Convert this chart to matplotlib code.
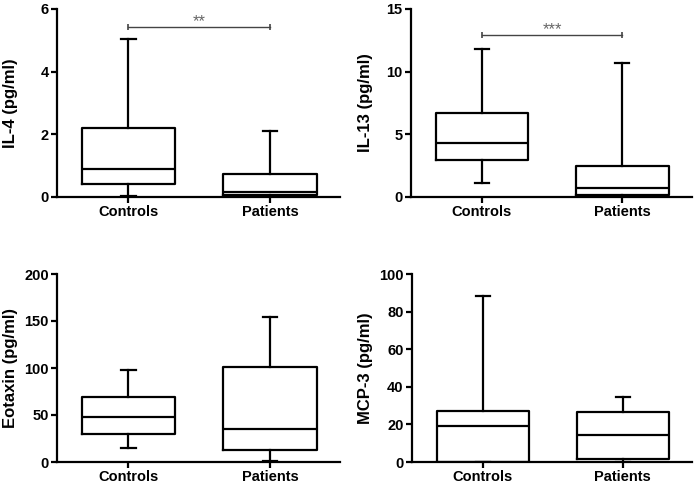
import matplotlib
matplotlib.use("Agg")
import matplotlib.pyplot as plt

plt.rcParams['font.family'] = ['Liberation Sans', 'DejaVu Sans']
plt.rcParams['font.weight'] = 'bold'

groups = ["Controls", "Patients"]

# five-number summaries: whislo, q1, med, q3, whishi
il4_controls = [0.03, 0.41, 0.89, 2.20, 5.04]
il4_patients = [0.02, 0.05, 0.15, 0.73, 2.10]
il13_controls = [1.14, 2.95, 4.28, 6.68, 11.80]
il13_patients = [0.05, 0.15, 0.69, 2.50, 10.72]
eotaxin_controls = [15.2, 29.8, 47.9, 69.0, 97.5]
eotaxin_patients = [1.0, 12.4, 35.5, 100.7, 154.0]
mcp3_controls = [0.0, 0.0, 19.0, 27.3, 88.2]
mcp3_patients = [0.0, 1.8, 14.6, 26.5, 34.8]

panels = [
    ("IL-4 (pg/ml)", il4_controls, il4_patients, (0, 6), [0, 2, 4, 6], (5.43, "**")),
    ("IL-13 (pg/ml)", il13_controls, il13_patients, (0, 15), [0, 5, 10, 15], (12.95, "***")),
    ("Eotaxin (pg/ml)", eotaxin_controls, eotaxin_patients, (0, 200), [0, 50, 100, 150, 200], None),
    ("MCP-3 (pg/ml)", mcp3_controls, mcp3_patients, (0, 100), [0, 20, 40, 60, 80, 100], None),
]

W, H = 698, 484
fig = plt.figure(figsize=(W / 100, H / 100), dpi=100)

# axes rectangles in pixels (left, right, top, bottom) and y-label centre x
rects = [
    (57, 340, 9, 197, 10),
    (411, 692, 9, 197, 365),
    (57, 340, 274, 462, 10),
    (412, 692, 274, 462, 365),
]

lw = 1.6
for (ylabel, c, p, ylim, yticks, sig), (l, r, t, b, lx) in zip(panels, rects):
    ax = fig.add_axes([l / W, 1 - b / H, (r - l) / W, (b - t) / H])
    stats = []
    for name, v in zip(groups, (c, p)):
        stats.append(dict(label=name, whislo=v[0], q1=v[1], med=v[2], q3=v[3], whishi=v[4], fliers=[]))
    style = dict(color='black', linewidth=lw)
    ax.bxp(stats, positions=[1, 2], widths=0.66, capwidths=0.1,
           showfliers=False, patch_artist=False,
           boxprops=style, whiskerprops=style, capprops=style,
           medianprops=style)
    ax.set_xlim(0.495, 2.495)
    ax.set_ylim(*ylim)
    ax.set_yticks(yticks)
    ax.set_xticks([1, 2])
    ax.set_xticklabels(groups)
    for s in ('top', 'right'):
        ax.spines[s].set_visible(False)
    for s in ('left', 'bottom'):
        ax.spines[s].set_linewidth(lw)
    ax.tick_params(axis='both', direction='out', length=4, width=lw, labelsize=10.5, pad=2)
    ax.set_ylabel(ylabel, fontsize=12, fontweight='bold', va='center')
    ax.yaxis.set_label_coords((lx - l) / (r - l), 0.5)
    for lab in ax.get_xticklabels() + ax.get_yticklabels():
        lab.set_fontweight('bold')
    if sig is not None:
        yv, txt = sig
        ax.plot([1, 2], [yv, yv], color='#444444', lw=1.0, marker='|', ms=4, mew=1.2, clip_on=False)
        ax.annotate(txt, xy=(1.5, yv), xytext=(0, 0.5), textcoords='offset points',
                    ha='center', va='baseline', fontsize=12, color='#666666', fontweight='normal')

fig.savefig("out.png", dpi=100)
